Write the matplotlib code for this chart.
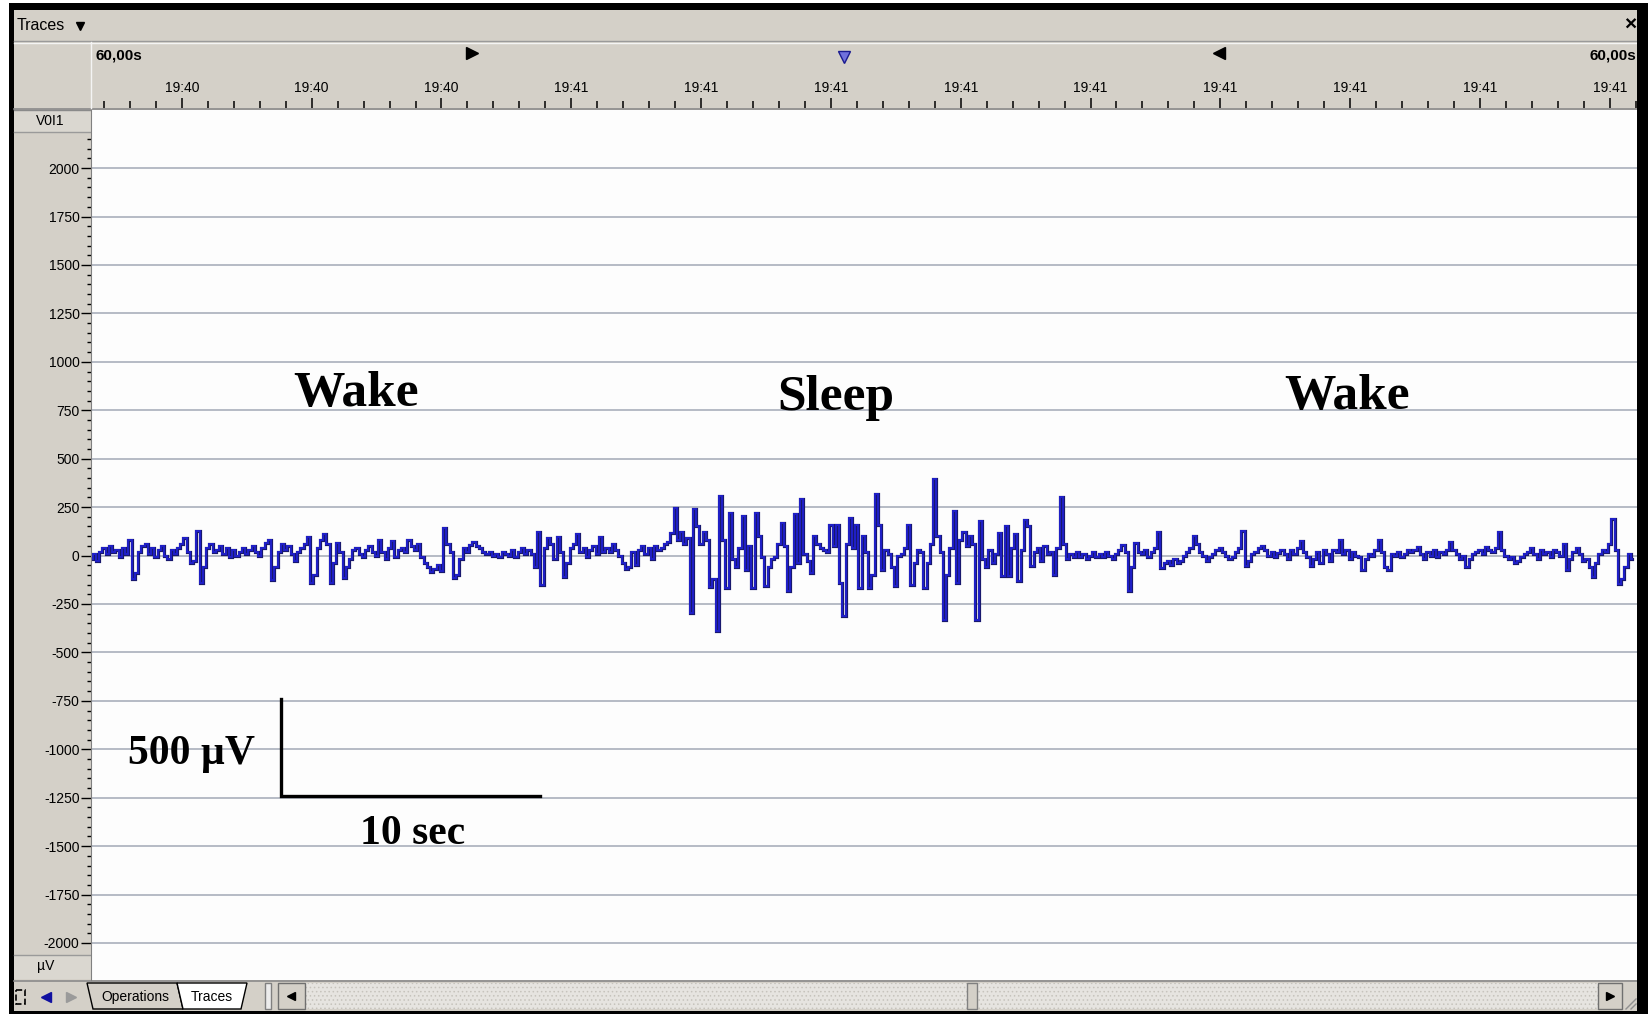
import matplotlib.pyplot as plt
from matplotlib.patches import Rectangle, Polygon
from matplotlib.ticker import FixedLocator
import numpy as np

plt.rcParams['axes.unicode_minus'] = False
plt.rcParams['hatch.linewidth'] = 0.6

W, H = 1648, 1014
PANEL = '#d4d0c8'
TRACE = '#2020c8'
TRACE_EDGE = '#18186e'
GRID = '#aab0bb'
UI_FONT = 'Liberation Sans'
LABEL_FONT = 'Liberation Serif'

# EEG trace, 8 samples per second
sample_step = 0.125
window_sec = 59.55

wake1_uv = [
    -20, 10, -30, 20, 40, 10, 50, 20,
    30, -10, 40, 10, 80, -120, -90, 20,
    50, 60, 10, 40, -10, 30, 50, 0,
    -20, 30, 10, 40, 60, 90, 20, -40,
    -30, 125, -143, -60, 40, 60, 20, 30,
    50, 10, 40, -10, 30, 0, 20, 40,
    10, 30, 50, 20, 0, 40, 65, 80,
    -126, -60, 20, 60, 30, 50, 10, -30,
    20, 40, 60, 96, -143, -100, 40, 80,
    110, 60, -143, -40, 65, 20, -116, -60,
    -20, 30, 40, 10, -10, 30, 50, 20,
    0, 80, 20, -20, 40, 75, -10, 30,
    40, 20, 80, 50, 30, 60, -10, -40,
    -60, -85, -70, -50, -80, 140, 60, 20,
    -116, -100, -20, 40, 20, 55, 70, 50,
    40, 20, 10, 20, 0, 10, -10, 20,
    10, 0, 30, -10, 20, 40, 10, 30,
    10, -60, 122, -150, 40, 90, 60, -20,
    96, 20, -110, -40, 40, 60, 110, 20,
    40, -10, 30, 50, 10, 96, 20, 40,
    20, 60, 30, 0, -40, -70, -60, 20,
    -50, 30, 50, 10, 40, -20, 50, 30,
]
sleep_uv = [
    40, 60, 70, 115, 245, 80, 122, 60,
    90, -297, 240, 150, 60, 120, 80, -160,
    -120, -390, 307, 80, -167, 220, -20, -60,
    40, 203, -72, 50, -167, 220, 100, -10,
    -158, -60, -20, -10, 60, 170, 50, -185,
    -60, 212, -40, 290, 10, -30, -90, 100,
    60, 40, 30, 20, 160, 50, 160, -141,
    -314, 60, 195, 40, 160, -167, 100, 20,
    -167, -100, 316, 160, -72, 30, 10, -60,
    -158, 0, 10, 40, 160, -150, -40, 30,
    20, -167, -40, 60, 393, 100, 20, -331,
    -100, 40, 230, -141, 80, 120, 50, 100,
    60, -331, 178, -20, -60, 30, -40, 10,
    117, -107, 155, -107, 40, 109, -133, 30,
    186, 150, -55, 20, 40, -30, 50, 10,
]
wake2_uv = [
    20, -98, 40, 303, 60, -20, 10, -10,
    20, -10, 10, -20, 0, 20, -10, 10,
    -10, 20, 0, -20, 10, 30, 55, 20,
    -184, -60, 66, 20, 10, 30, -10, 20,
    40, 120, -64, -40, -30, -50, -20, -40,
    -30, 0, 20, 40, 100, 60, 20, 0,
    -30, -10, 10, 30, 40, 20, 0, -20,
    -10, 20, 40, 126, -55, -30, 10, 20,
    40, 50, 30, 0, 20, -10, 15, 30,
    10, -20, 30, 10, 40, 75, 20, -10,
    -55, -20, 20, -40, 30, 10, -30, 30,
    20, 80, 10, 30, -20, 20, 0, -10,
    -75, -20, 10, 0, 30, 80, 20, -60,
    -75, 10, 0, 20, -10, 10, 30, 20,
    30, 45, 10, -20, 20, 0, 30, -10,
    20, 10, 30, 70, 30, 10, -20, 0,
    -60, -20, 10, 20, 30, 10, 45, 30,
    20, 40, 122, 30, 0, -20, -10, -40,
    -30, -10, 10, 20, 40, 10, -20, 30,
    10, 20, -10, 30, 20, 0, 60, -75,
    -20, 20, 40, 10, -30, -20, -60, -110,
    -40, 10, 30, 20, 60, 190, 30, -145,
    -120, -60, 10, -20,
]

ruler_major = np.arange(3.5, 59, 5)
ruler_minor = np.arange(0.5, 59.6, 1)
ruler_labels = ['19:40'] * 3 + ['19:41'] * 9

y_major = np.arange(-2000, 2001, 250)
y_minor = np.arange(-2000, 2151, 50)

stages = ['Wake', 'Sleep', 'Wake']
stage_t = [10.2, 28.7, 48.4]
stage_uv = [773, 751, 757]

bar_t0, bar_uv0 = 7.3, -1240
bar_len_t, bar_len_uv = 10, 500


def px_box(x0, y0, x1, y1):
    return [x0 / W, 1 - y1 / H, (x1 - x0) / W, (y1 - y0) / H]


fig = plt.figure(figsize=(W / 100, H / 100), dpi=100)

# window chrome, drawn in pixel space
bg = fig.add_axes([0, 0, 1, 1], zorder=0)
bg.set_xlim(0, W)
bg.set_ylim(H, 0)
bg.axis('off')

bg.add_patch(Rectangle((9, 3), W - 9, H - 3, fc='black', ec='none'))
bg.add_patch(Rectangle((14, 10), 1623, 1001, fc=PANEL, ec='none'))
bg.plot([14, 1637], [41, 41], color='#9a9a9a', lw=1)
bg.plot([14, 1637], [42.5, 42.5], color='#f4f4f4', lw=1)
bg.plot([14, 1637], [108.5, 108.5], color='#8a8a8a', lw=1.2)
bg.plot([91, 91], [42, 108], color='#f4f4f4', lw=1)

# title bar
bg.text(17, 26, 'Traces', fontsize=11.5, family=UI_FONT, va='center', ha='left')
bg.plot(80, 26, marker='v', color='black', ms=6)
bg.text(1630, 25, '×', fontsize=15, fontweight='bold', family=UI_FONT, va='center', ha='center')

# ruler header
bg.text(96, 55, '60,00s', fontsize=11, fontweight='bold', family=UI_FONT, va='center', ha='left')
bg.text(1590, 55, '60,00s', fontsize=11, fontweight='bold', family=UI_FONT, va='center', ha='left')
bg.plot(472, 53, marker='>', color='black', ms=8)
bg.plot(844, 57, marker='v', mfc='#7070dd', mec='#1a1a90', ms=8)
bg.plot(1219, 53, marker='<', color='black', ms=8)

# channel name cells
bg.add_patch(Rectangle((14, 110), 77, 22, fc='#dad7d0', ec='none'))
bg.plot([14, 91], [110, 110], color='#8a8a8a', lw=1)
bg.plot([14, 91], [132, 132], color='#9a9a9a', lw=1)
bg.text(50, 121, 'V0I1', fontsize=10, family=UI_FONT, va='center', ha='center')
bg.add_patch(Rectangle((14, 955), 77, 24, fc='#dad7d0', ec='none'))
bg.plot([14, 91], [955, 955], color='#9a9a9a', lw=1)
bg.text(46, 966, 'µV', fontsize=10, family=UI_FONT, va='center', ha='center')
bg.plot([14, 1637], [980.5, 980.5], color='#8a8a8a', lw=1.2)

# bottom toolbar
bg.add_patch(Rectangle((16, 990), 9, 14, fc='none', ec='black', lw=1.2, ls='--'))
bg.plot(46, 997, marker='<', color='#1010a0', ms=7)
bg.plot(71, 997, marker='>', color='#9a9a9a', ms=7)
bg.add_patch(Polygon([(87, 983), (93, 1009), (183, 1009), (177, 983)],
                     fc=PANEL, ec='black', lw=1))
bg.add_patch(Polygon([(177, 983), (183, 1009), (241, 1009), (247, 983)],
                     fc='white', ec='black', lw=1))
bg.text(135, 997, 'Operations', fontsize=10, family=UI_FONT, va='center', ha='center')
bg.text(212, 997, 'Traces', fontsize=10, family=UI_FONT, va='center', ha='center')
bg.add_patch(Rectangle((265, 983), 6, 26, fc='#ececec', ec='#808080', lw=1))
bg.add_patch(Rectangle((305, 983), 1293, 26, fc='#e6e4e0', ec='#c6c3bc', lw=0, hatch='....'))
bg.add_patch(Rectangle((278, 983), 27, 26, fc=PANEL, ec='#707070', lw=1))
bg.plot(291, 996, marker='<', color='black', ms=6)
bg.add_patch(Rectangle((967, 983), 10, 26, fc=PANEL, ec='#808080', lw=1))
bg.add_patch(Rectangle((1598, 983), 24, 26, fc=PANEL, ec='#707070', lw=1))
bg.plot(1610, 996, marker='>', color='black', ms=6)
bg.plot([1626, 1636], [1009, 999], color='#909090', lw=1)
bg.plot([1631, 1636], [1009, 1004], color='#909090', lw=1)

# right border drawn over the clipped header text
bg.add_patch(Rectangle((1637, 3), 11, H - 3, fc='black', ec='none', zorder=10))

# ruler
ax_r = fig.add_axes(px_box(91, 42, 1637, 108), zorder=2)
ax_r.patch.set_visible(False)
ax_r.set_xlim(0, window_sec)
ax_r.set_ylim(0, 1)
for s in ax_r.spines.values():
    s.set_visible(False)
ax_r.set_yticks([])
ax_r.set_xticks(ruler_major)
ax_r.set_xticklabels(ruler_labels, family=UI_FONT, fontsize=10)
ax_r.xaxis.set_minor_locator(FixedLocator(ruler_minor))
ax_r.tick_params(axis='x', which='major', direction='in', length=7.2, width=1.1, pad=-19.5)
ax_r.tick_params(axis='x', which='minor', direction='in', length=5, width=1.1)

# trace panel
ax = fig.add_axes(px_box(91, 110, 1637, 980), zorder=1)
ax.set_facecolor('#fdfdfd')
ax.set_xlim(0, window_sec)
ax.set_ylim(-2191, 2300)
for name, s in ax.spines.items():
    s.set_visible(name == 'left')
ax.spines['left'].set_color('#808080')
ax.set_xticks([])
ax.set_yticks(y_major)
ax.yaxis.set_minor_locator(FixedLocator(y_minor))
ax.tick_params(axis='y', which='major', direction='out', length=7.2, width=1, pad=1, labelsize=10)
ax.tick_params(axis='y', which='minor', direction='out', length=3, width=1)
for lab in ax.get_yticklabels():
    lab.set_family(UI_FONT)
ax.grid(axis='y', which='major', color=GRID, lw=1.2)
ax.set_axisbelow(True)

uv = np.array(wake1_uv + sleep_uv + wake2_uv)
t = np.arange(len(uv)) * sample_step
ax.plot(t, uv, drawstyle='steps-mid', color=TRACE_EDGE, lw=2.3, solid_joinstyle='miter')
ax.plot(t, uv, drawstyle='steps-mid', color=TRACE, lw=1.4, solid_joinstyle='miter')

for label, st, su in zip(stages, stage_t, stage_uv):
    ax.text(st, su, label, fontsize=37, fontweight='bold', family=LABEL_FONT,
            ha='center', va='baseline')

ax.plot([bar_t0, bar_t0, bar_t0 + bar_len_t],
        [bar_uv0 + bar_len_uv, bar_uv0, bar_uv0],
        color='black', lw=2.4, solid_joinstyle='miter')
ax.text(3.86, -1077, '500 µV', fontsize=30, fontweight='bold', family=LABEL_FONT,
        ha='center', va='baseline')
ax.text(12.37, -1488, '10 sec', fontsize=30, fontweight='bold', family=LABEL_FONT,
        ha='center', va='baseline')

fig.savefig('out.png', dpi=100)
